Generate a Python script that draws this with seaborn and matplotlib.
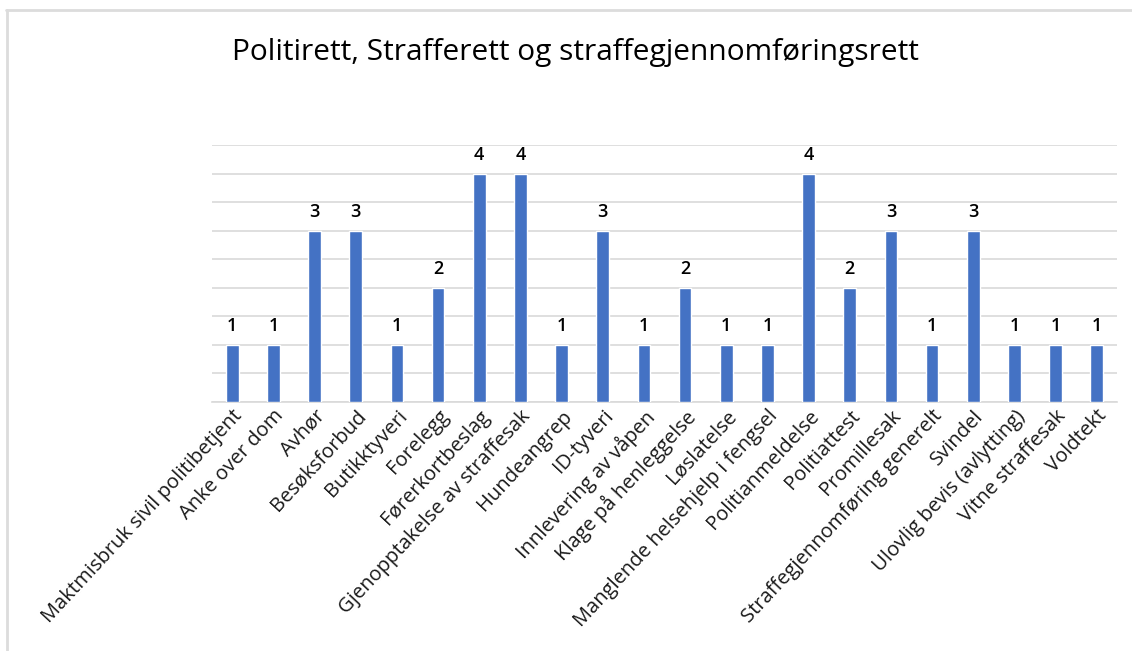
import matplotlib
matplotlib.use("Agg")
import matplotlib.pyplot as plt
from matplotlib.lines import Line2D
import seaborn as sns
import pandas as pd

# Data
kategorier = [
    "Maktmisbruk sivil politibetjent", "Anke over dom", "Avhør", "Besøksforbud",
    "Butikktyveri", "Forelegg", "Førerkortbeslag", "Gjenopptakelse av straffesak",
    "Hundeangrep", "ID-tyveri", "Innlevering av våpen", "Klage på henleggelse",
    "Løslatelse", "Manglende helsehjelp i fengsel", "Politianmeldelse",
    "Politiattest", "Promillesak", "Straffegjennomføring generelt", "Svindel",
    "Ulovlig bevis (avlytting)", "Vitne straffesak", "Voldtekt",
]
antall = [1, 1, 3, 3, 1, 2, 4, 4, 1, 3, 1, 2, 1, 1, 4, 2, 3, 1, 3, 1, 1, 1]
tittel = "Politirett, Strafferett og straffegjennomføringsrett"

sns.set_theme(style="white")
plt.rcParams["font.family"] = ["Open Sans", "DejaVu Sans"]

df = pd.DataFrame({"kategori": kategorier, "antall": antall})

fig = plt.figure(figsize=(11.32, 6.51), dpi=100)
ax = fig.add_axes([0.187, 0.3825, 0.8, 0.3945])

sns.barplot(data=df, x="kategori", y="antall", color="#4472C4",
            width=0.31, saturation=1, ax=ax, zorder=3)

ax.set_ylim(0, 4.5)
ax.set_xlim(-0.5, len(kategorier) - 0.5)
ax.set_yticks([i * 0.5 for i in range(10)])
ax.yaxis.grid(True, color="#d9d9d9", linewidth=1.2, zorder=0)
ax.tick_params(axis="y", left=False, labelleft=False)
ax.tick_params(axis="x", length=0, pad=3)
for s in ["top", "right", "left"]:
    ax.spines[s].set_visible(False)
ax.spines["bottom"].set_color("#d9d9d9")
ax.spines["bottom"].set_linewidth(1.2)
ax.set_xlabel("")
ax.set_ylabel("")

ax.set_xticks(range(len(kategorier)))
ax.set_xticklabels(kategorier, rotation=47, ha="right", rotation_mode="anchor",
                   fontsize=14.5, color="#1a1a1a")

for c in ax.containers:
    ax.bar_label(c, padding=7, fontsize=13, color="black", fontweight="semibold")

fig.text(0.508, 0.92, tittel, ha="center", va="center", fontsize=21.5,
         color="black")

# light frame from the screenshot
fig.add_artist(Line2D([0.005, 1.0], [0.985, 0.985], transform=fig.transFigure,
                      color="#dcdcdc", linewidth=2))
fig.add_artist(Line2D([0.006, 0.006], [0.0, 0.985], transform=fig.transFigure,
                      color="#dcdcdc", linewidth=2))

fig.savefig("out.png", dpi=100, facecolor="white")
